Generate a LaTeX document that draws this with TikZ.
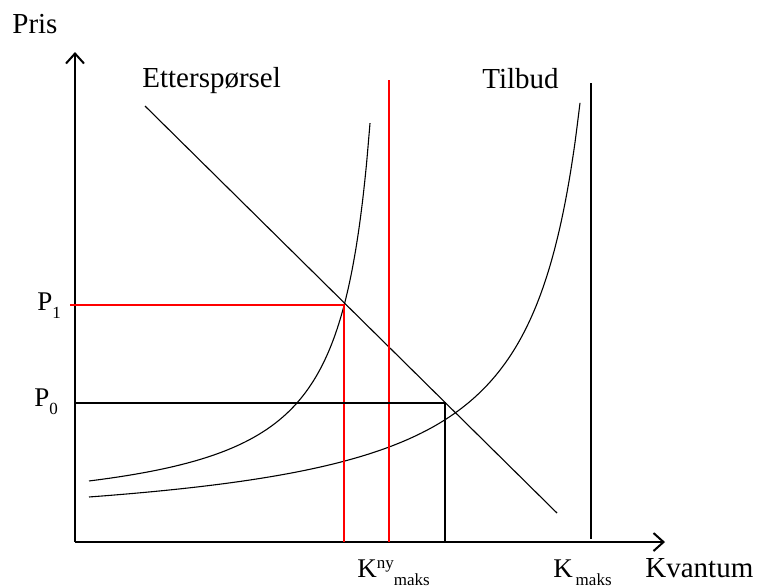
\documentclass[tikz,border=0pt]{standalone}
\usepackage{fontspec}
\setmainfont{Liberation Serif}
\usetikzlibrary{arrows.meta}

\newcommand{\lowtxt}[1]{\raisebox{-4pt}{\fontsize{8.5}{9}\selectfont #1}}
\newcommand{\hightxt}[1]{\raisebox{4.5pt}{\fontsize{8.5}{9}\selectfont #1}}

\begin{document}
\begin{tikzpicture}[
  x=0.5pt, y=-0.5pt,
  every node/.style={inner sep=0pt, anchor=base west},
  big label/.style={font=\fontsize{14.5}{16}\selectfont},
  axis label/.style={font=\fontsize{13.5}{15}\selectfont},
  axis line/.style={draw, line width=1pt, -{Straight Barb[length=5pt,width=9pt,line width=1pt]}},
  curve/.style={draw, line width=0.55pt},
  guide/.style={draw, line width=0.55pt},
  new guide/.style={guide, red}
]
  \useasboundingbox (0,0) rectangle (760,586);

  % axes
  \coordinate (O)    at (75,542);
  \coordinate (ytop) at (75,52);
  \coordinate (xend) at (665,542);
  \draw[axis line] (O) -- (ytop);
  \draw[axis line] (O) -- (xend);

  % levels
  \coordinate (p1)   at (70,305);
  \coordinate (p0)   at (75,403);
  \coordinate (eq1)  at (344,305);
  \coordinate (eq0)  at (445,403);
  \coordinate (k1)   at (344,542);
  \coordinate (k0)   at (445,542);
  \coordinate (kn)   at (389,80);
  \coordinate (knb)  at (389,542);
  \coordinate (km)   at (591,83);
  \coordinate (kmb)  at (591,539);

  % demand
  \coordinate (dA) at (145,106);
  \coordinate (dB) at (557,513);
  \draw[curve] (dA) -- (dB);

  % supply, new and old
  \draw[curve] plot[domain=89:370, samples=80, smooth] (\x, {519.8-12100/(400.5-\x)});
  \draw[curve] plot[domain=89:580, samples=100, smooth] (\x, {537.1-10855/(630-\x)*2});

  \draw[new guide] (p1) -- (eq1) -- (k1);
  \draw[new guide] (kn) -- (knb);
  \draw[guide] (p0) -- (eq0) -- (k0);
  \draw[guide] (km) -- (kmb);

  % labels
  \node[big label] (pris) at (12,33) {Pris};
  \node[big label] (ett)  at (142,87) {Etterspørsel};
  \node[big label] (tilb) at (482,88) {Tilbud};
  \node[big label] (kvan) at (645,577) {Kvantum};
  \node[axis label] (lp1) at (37,310) {P\lowtxt{1}};
  \node[axis label] (lp0) at (34,406) {P\lowtxt{0}};
  \node[axis label] (lkn) at (357,577) {K\hightxt{ny}\lowtxt{maks}};
  \node[axis label] (lkm) at (553,577) {K\lowtxt{\,maks}};
\end{tikzpicture}
\end{document}
